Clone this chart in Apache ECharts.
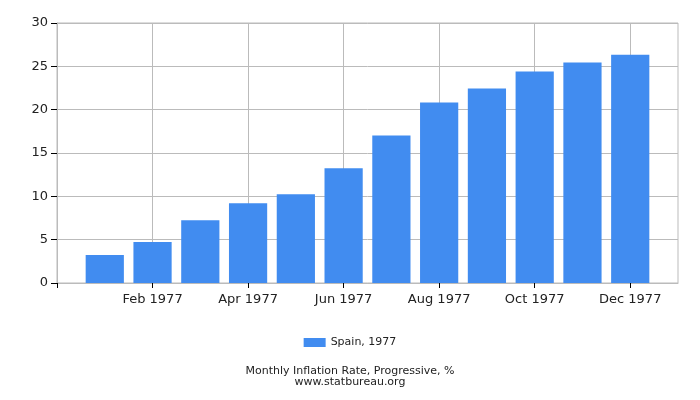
<!DOCTYPE html>
<html>
<head>
<meta charset="utf-8">
<script src="https://cdn.jsdelivr.net/npm/echarts@6/dist/echarts.min.js"></script>
<style>html,body{margin:0;padding:0;background:#fff}#c{width:700px;height:400px}</style>
</head>
<body>
<div id="c"></div>
<script>
const months = ['Jan 1977','Feb 1977','Mar 1977','Apr 1977','May 1977','Jun 1977','Jul 1977','Aug 1977','Sep 1977','Oct 1977','Nov 1977','Dec 1977'];
const spain1977 = [3.22, 4.72, 7.25, 9.21, 10.24, 13.23, 17.03, 20.83, 22.44, 24.40, 25.43, 26.35];
const yTicks = [0, 5, 10, 15, 20, 25, 30];
const seriesName = 'Spain, 1977';
const titleText = 'Monthly Inflation Rate, Progressive, %';
const subText = 'www.statbureau.org';

const cats = [''].concat(months, ['']);
const vals = [null].concat(spain1977, [null]);
const font = 'DejaVu Sans';

const chart = echarts.init(document.getElementById('c'), null, {renderer: 'canvas'});
chart.setOption({
  animation: false,
  textStyle: {fontFamily: font},
  grid: {left: 57, right: 22, top: 23, bottom: 117, show: true, borderColor: '#bbbbbb', borderWidth: 1},
  legend: {
    data: [{name: seriesName, icon: 'rect'}], bottom: 47, left: 'center',
    itemWidth: 22, itemHeight: 9, itemGap: 5,
    textStyle: {fontFamily: font, fontSize: 11, color: '#222'}
  },
  title: {
    text: titleText + '\n' + subText,
    left: 'center', bottom: 7,
    textStyle: {fontFamily: font, fontSize: 11, fontWeight: 'normal', color: '#222', lineHeight: 11}
  },
  xAxis: {
    type: 'category', data: cats, boundaryGap: false,
    axisLine: {show: true, lineStyle: {color: '#bbbbbb'}},
    axisTick: {show: true, interval: 1, length: 5, lineStyle: {color: '#000'}},
    axisLabel: {interval: 1, fontFamily: font, fontSize: 13, color: '#222', margin: 10},
    splitLine: {show: true, interval: 1, lineStyle: {color: '#bbbbbb'}}
  },
  yAxis: {
    type: 'value', min: yTicks[0], max: yTicks[yTicks.length - 1], interval: 5,
    axisLine: {show: true, lineStyle: {color: '#bbbbbb'}},
    axisTick: {show: true, length: 6, lineStyle: {color: '#000'}},
    axisLabel: {fontFamily: font, fontSize: 13, color: '#222', margin: 9},
    splitLine: {show: true, lineStyle: {color: '#bbbbbb'}}
  },
  series: [{
    name: seriesName, type: 'bar', data: vals, barWidth: '80%',
    itemStyle: {color: '#418cf0'}
  }]
});
</script>
</body>
</html>
